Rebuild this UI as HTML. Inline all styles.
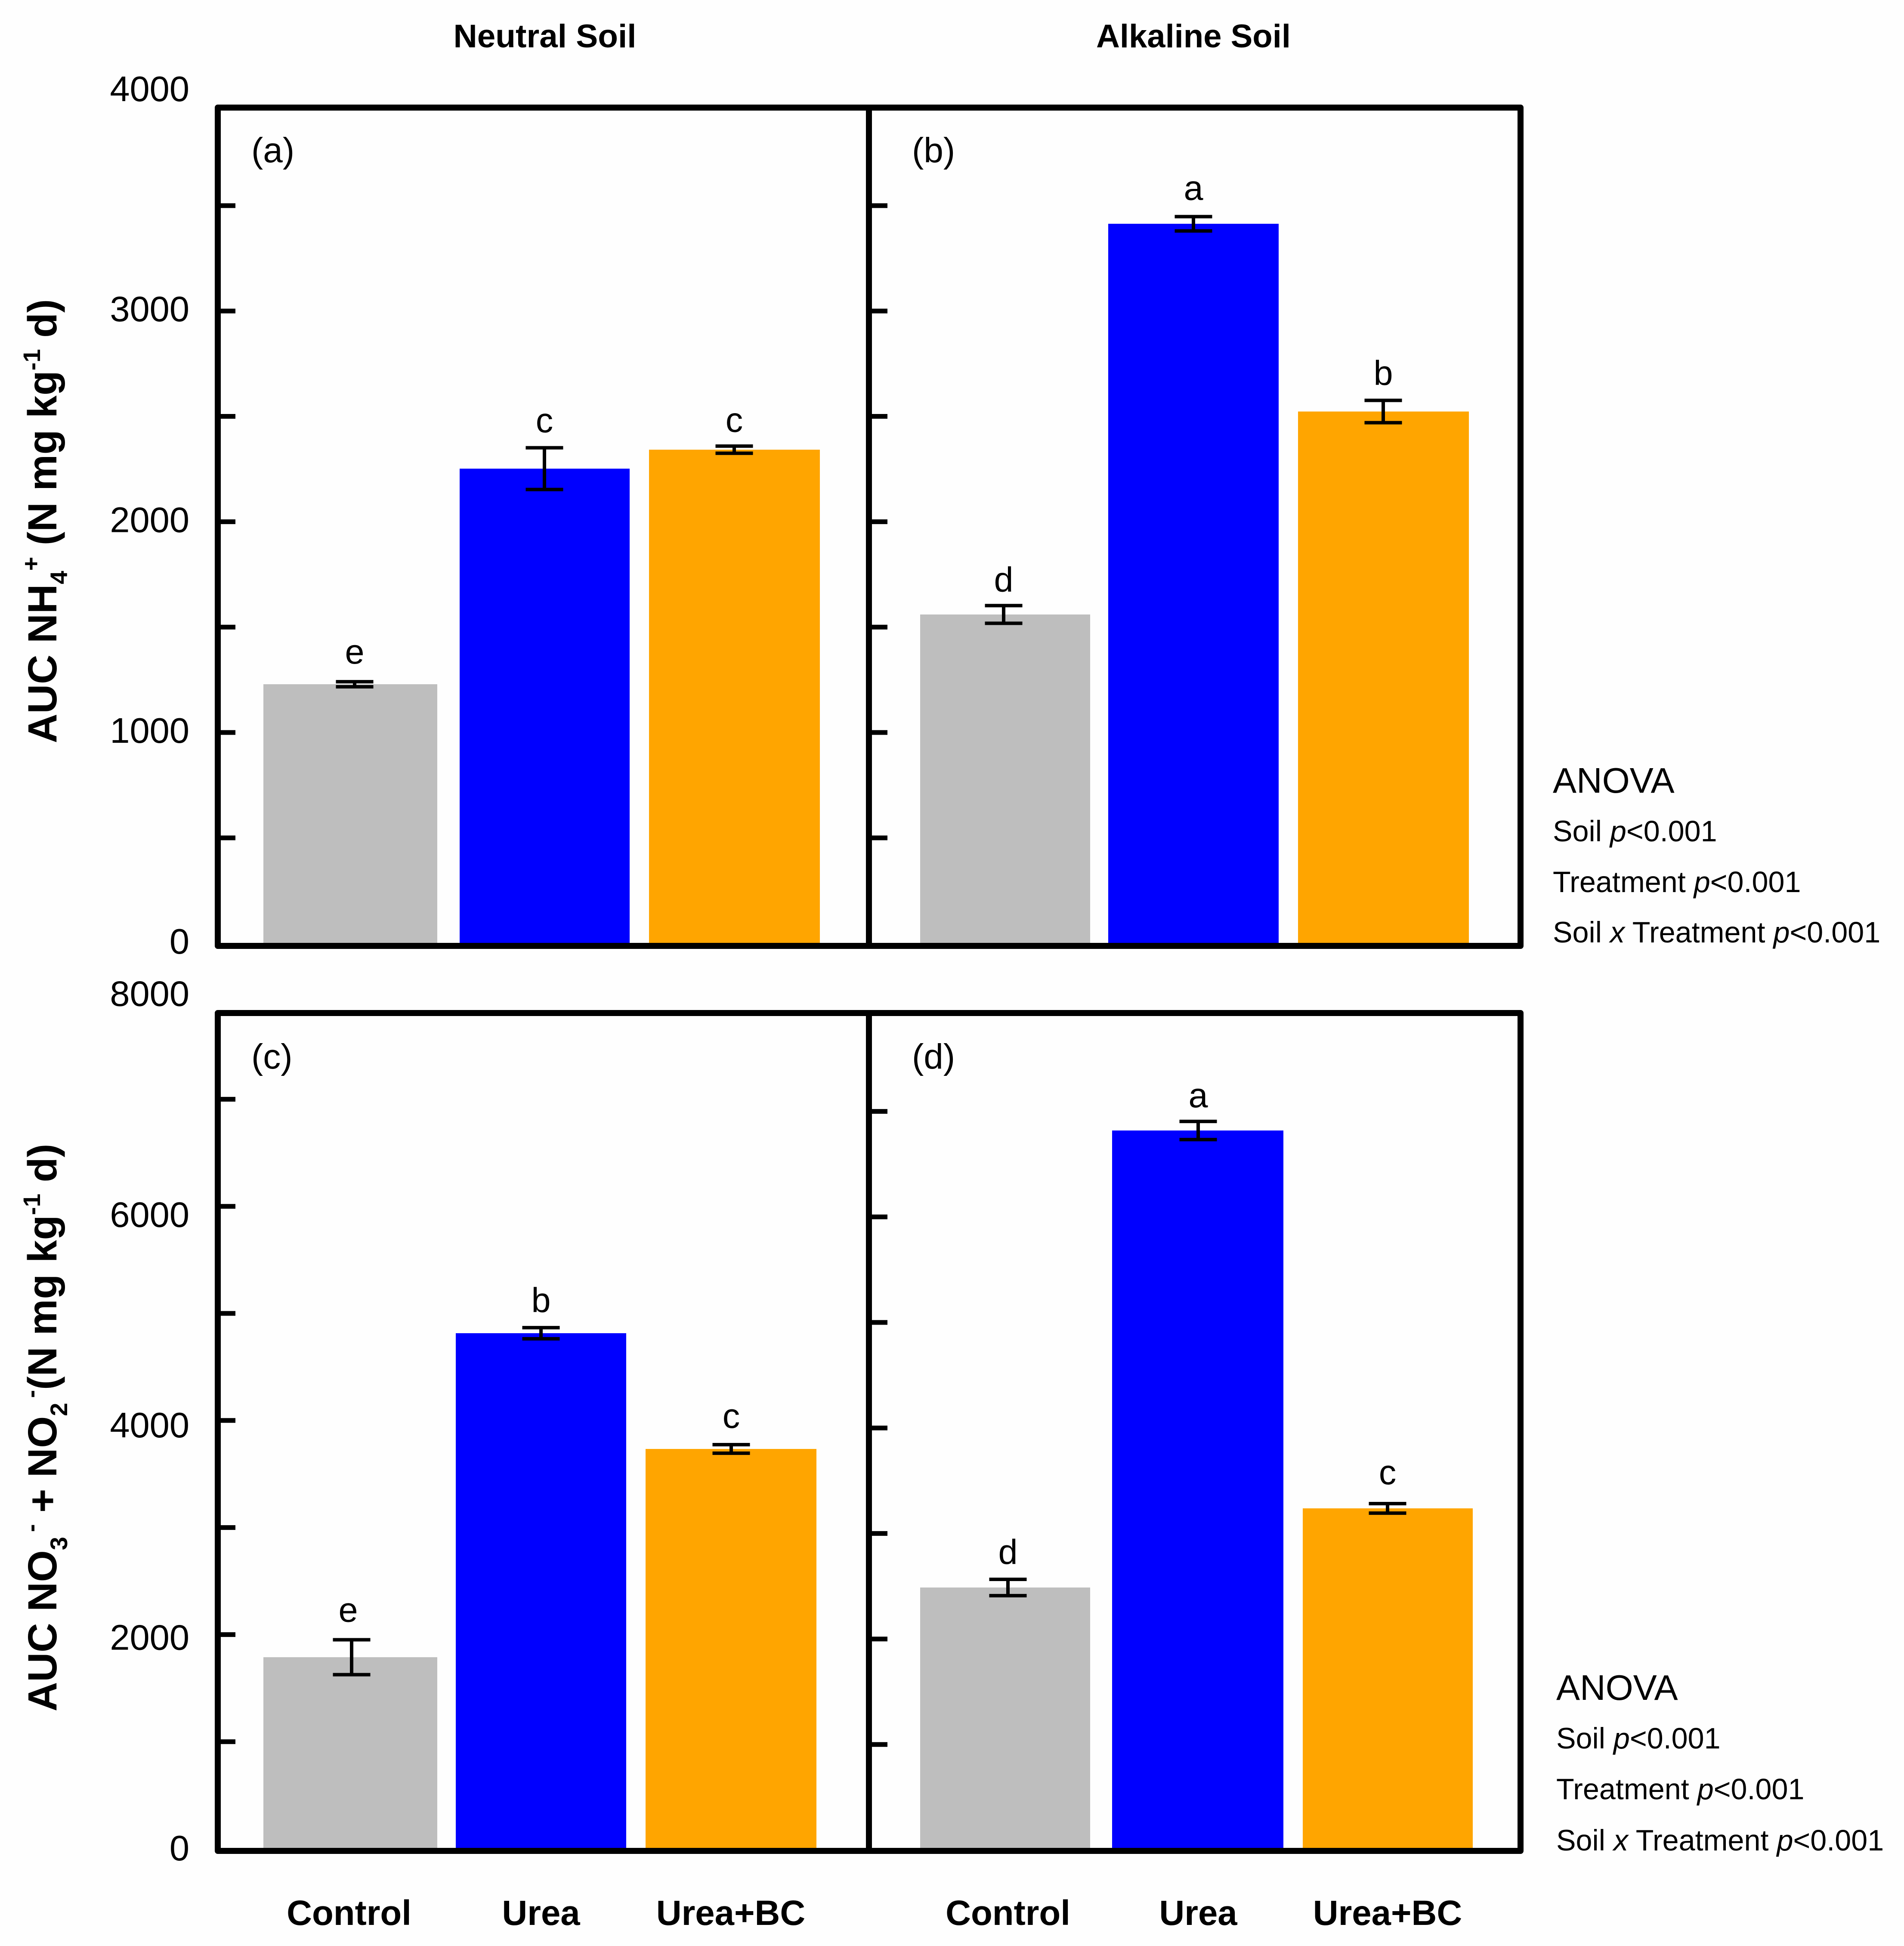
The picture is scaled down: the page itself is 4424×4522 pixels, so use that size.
<!DOCTYPE html>
<html lang="en">
<head>
<meta charset="utf-8">
<title>AUC of NH4+ and NO3- + NO2- in neutral and alkaline soil</title>
<style>
  html, body { margin: 0; padding: 0; background: #fefefe; }
  svg { display: block; }
  text { font-family: "Liberation Sans", Arial, sans-serif; fill: #000; white-space: pre; }
  .bold { font-weight: bold; }
</style>
</head>
<body>
<svg id="chart" xmlns="http://www.w3.org/2000/svg" width="4424" height="4522" viewBox="0 0 4424 4522">
  <rect x="0" y="0" width="4424" height="4522" fill="#fefefe"/>
  <g id="marks"></g>

  <text class="bold" x="1266" y="110" font-size="76.5" text-anchor="middle">Neutral Soil</text>
  <text class="bold" x="2773" y="110" font-size="76" text-anchor="middle">Alkaline Soil</text>

  <text class="bold" font-size="95" transform="translate(131 1727) rotate(-90)" x="0" y="0">AUC NH<tspan font-size="56" dy="25">4</tspan><tspan font-size="56" dy="-65">+</tspan><tspan dy="40"> (N mg kg</tspan><tspan font-size="56" dy="-38">-1</tspan><tspan dy="38"> d)</tspan></text>
  <text class="bold" font-size="95" transform="translate(131 3977) rotate(-90)" x="0" y="0">AUC NO<tspan font-size="56" dy="25">3</tspan><tspan font-size="56" dy="-65" dx="11">-</tspan><tspan dy="40"> + NO</tspan><tspan font-size="56" dy="25">2</tspan><tspan font-size="56" dy="-65" dx="11">-</tspan><tspan dy="40">(N mg kg</tspan><tspan font-size="56" dy="-38">-1</tspan><tspan dy="38"> d)</tspan></text>

  <g>
    <text x="3608" y="1842" font-size="82.5">ANOVA</text>
    <text x="3608" y="1955" font-size="68.3">Soil <tspan font-style="italic">p</tspan>&lt;0.001</text>
    <text x="3608" y="2073" font-size="68.3">Treatment <tspan font-style="italic">p</tspan>&lt;0.001</text>
    <text x="3608" y="2190" font-size="68.3">Soil <tspan font-style="italic">x</tspan> Treatment <tspan font-style="italic">p</tspan>&lt;0.001</text>
  </g>
  <g>
    <text x="3616" y="3950" font-size="82.5">ANOVA</text>
    <text x="3616" y="4063" font-size="68.3">Soil <tspan font-style="italic">p</tspan>&lt;0.001</text>
    <text x="3616" y="4181" font-size="68.3">Treatment <tspan font-style="italic">p</tspan>&lt;0.001</text>
    <text x="3616" y="4300" font-size="68.3">Soil <tspan font-style="italic">x</tspan> Treatment <tspan font-style="italic">p</tspan>&lt;0.001</text>
  </g>
</svg>

<script>
// ---- chart data ----
const categories = ["Control", "Urea", "Urea+BC"];

const panelAValues = [1229, 2252, 2342];
const panelAErrors = [12, 99, 17];
const panelALetters = ["e", "c", "c"];

const panelBValues = [1560, 3414, 2523];
const panelBErrors = [42, 34, 53];
const panelBLetters = ["d", "a", "b"];

const panelCValues = [1789, 4815, 3734];
const panelCErrors = [163, 52, 40];
const panelCLetters = ["e", "b", "c"];

const panelDValues = [2488, 6819, 3238];
const panelDErrors = [77, 86, 45];
const panelDLetters = ["d", "a", "c"];

const topTickValues = [500, 1000, 1500, 2000, 2500, 3000, 3500];
const topTickLabels = [0, 1000, 2000, 3000, 4000];
const bottomLeftTickValues = [1000, 2000, 3000, 4000, 5000, 6000, 7000];
const bottomRightTickValues = [1000, 2000, 3000, 4000, 5000, 6000, 7000];
const bottomTickLabels = [0, 2000, 4000, 6000, 8000];

// ---- layout (pixels, not data) ----
const barColors = ["#bebebe", "#0000ff", "#ffa500"];

function scaleTop(v) { return 2191.8 - 0.4897 * v; }
function scaleC(v) { return 4296 - 0.2488 * v; }
function scaleD(v) { return 4299 - 0.2452 * v; }

const layoutA = { name: "a", left: [612, 1068, 1508], right: [1016, 1463, 1905], errX: [824, 1265, 1706], letterGap: [42, 36, 33], letterShift: [0, 0, 0], labelX: 584, labelY: 377, y: scaleTop };
const layoutB = { name: "b", left: [2138, 2575, 3016], right: [2533, 2971, 3413], errX: [2332, 2773, 3214], letterGap: [33, 39, 36], letterShift: [0, 0, 0], labelX: 2119, labelY: 377, y: scaleTop };
const layoutC = { name: "c", left: [612, 1059, 1500], right: [1016, 1455, 1897], errX: [817, 1257, 1699], letterGap: [42, 36, 39], letterShift: [-8, 0, 0], labelX: 584, labelY: 2483, y: scaleC };
const layoutD = { name: "d", left: [2138, 2584, 3027], right: [2533, 2982, 3422], errX: [2342, 2784, 3224], letterGap: [36, 33, 45], letterShift: [0, 0, 0], labelX: 2119, labelY: 2483, y: scaleD };

const svgNS = "http://www.w3.org/2000/svg";
const marks = document.getElementById("marks");

function make(tag, attrs, text) {
  const el = document.createElementNS(svgNS, tag);
  for (const key in attrs) { el.setAttribute(key, attrs[key]); }
  if (text !== undefined) { el.textContent = text; }
  marks.appendChild(el);
  return el;
}

function drawBars(layout, values) {
  values.forEach(function (value, i) {
    const top = layout.y(value);
    const bottom = layout.y(0);
    const bar = make("rect", { x: layout.left[i], y: top, width: layout.right[i] - layout.left[i], height: bottom - top, fill: barColors[i] });
    
    
  });
}

function drawErrors(layout, values, errors, letters) {
  values.forEach(function (value, i) {
    const cx = layout.errX[i];
    const hi = layout.y(value + errors[i]);
    const lo = layout.y(value - errors[i]);
    const d = "M" + (cx - 43.5) + " " + hi + "H" + (cx + 43.5) + "M" + cx + " " + hi + "V" + lo + "M" + (cx - 43.5) + " " + lo + "H" + (cx + 43.5);
    const err = make("path", { d: d, fill: "none", stroke: "#000", "stroke-width": 8 });
    
    
    const letter = make("text", { x: cx + layout.letterShift[i], y: hi - layout.letterGap[i], "font-size": 81, "text-anchor": "middle" }, letters[i]);
    
    
  });
}

function drawFrame(top, bottom) {
  const frame = make("path", { d: "M506 " + top + "H3533V" + bottom + "H506ZM2019 " + top + "V" + bottom, fill: "none", stroke: "#000", "stroke-width": 14, "stroke-linejoin": "round" });
  
  
}

function drawTicks(yFn, tickValues, x0, x1) {
  tickValues.forEach(function (v) {
    const tick = make("line", { x1: x0, x2: x1, y1: yFn(v), y2: yFn(v), stroke: "#000", "stroke-width": 11 });
    
    
  });
}

function drawTickLabels(yFn, labels, nudge) {
  labels.forEach(function (v) {
    const label = make("text", { x: 440, y: yFn(v) + 27 + (nudge[v] || 0), "font-size": 83, "text-anchor": "end" }, String(v));
    
    
  });
}

function drawPanelLabel(layout) {
  const label = make("text", { x: layout.labelX, y: layout.labelY, "font-size": 82 }, "(" + layout.name + ")");
  
  
}

function drawCategoryLabels(layout) {
  categories.forEach(function (name, i) {
    const centers = layout.name === "c" ? [811, 1257, 1698] : [2342, 2784, 3224];
    const label = make("text", { x: centers[i], y: 4473, "font-size": 81.5, "font-weight": "bold", "text-anchor": "middle" }, name);
    
    
  });
}

drawBars(layoutA, panelAValues);
drawBars(layoutB, panelBValues);
drawBars(layoutC, panelCValues);
drawBars(layoutD, panelDValues);

drawFrame(250, 2198);
drawFrame(2354, 4301);

drawTicks(scaleTop, topTickValues, 513, 547);
drawTicks(scaleTop, topTickValues, 2026, 2062);
drawTicks(scaleC, bottomLeftTickValues, 513, 547);
drawTicks(scaleD, bottomRightTickValues, 2026, 2062);

drawTickLabels(scaleTop, topTickLabels, { 4000: -25, 3000: -3, 2000: -3, 1000: -3, 0: -3 });
drawTickLabels(scaleC, bottomTickLabels, { 8000: 5, 6000: 21, 4000: 12, 2000: 8 });

drawErrors(layoutA, panelAValues, panelAErrors, panelALetters);
drawErrors(layoutB, panelBValues, panelBErrors, panelBLetters);
drawErrors(layoutC, panelCValues, panelCErrors, panelCLetters);
drawErrors(layoutD, panelDValues, panelDErrors, panelDLetters);

drawPanelLabel(layoutA);
drawPanelLabel(layoutB);
drawPanelLabel(layoutC);
drawPanelLabel(layoutD);

drawCategoryLabels(layoutC);
drawCategoryLabels(layoutD);
</script>
</body>
</html>
